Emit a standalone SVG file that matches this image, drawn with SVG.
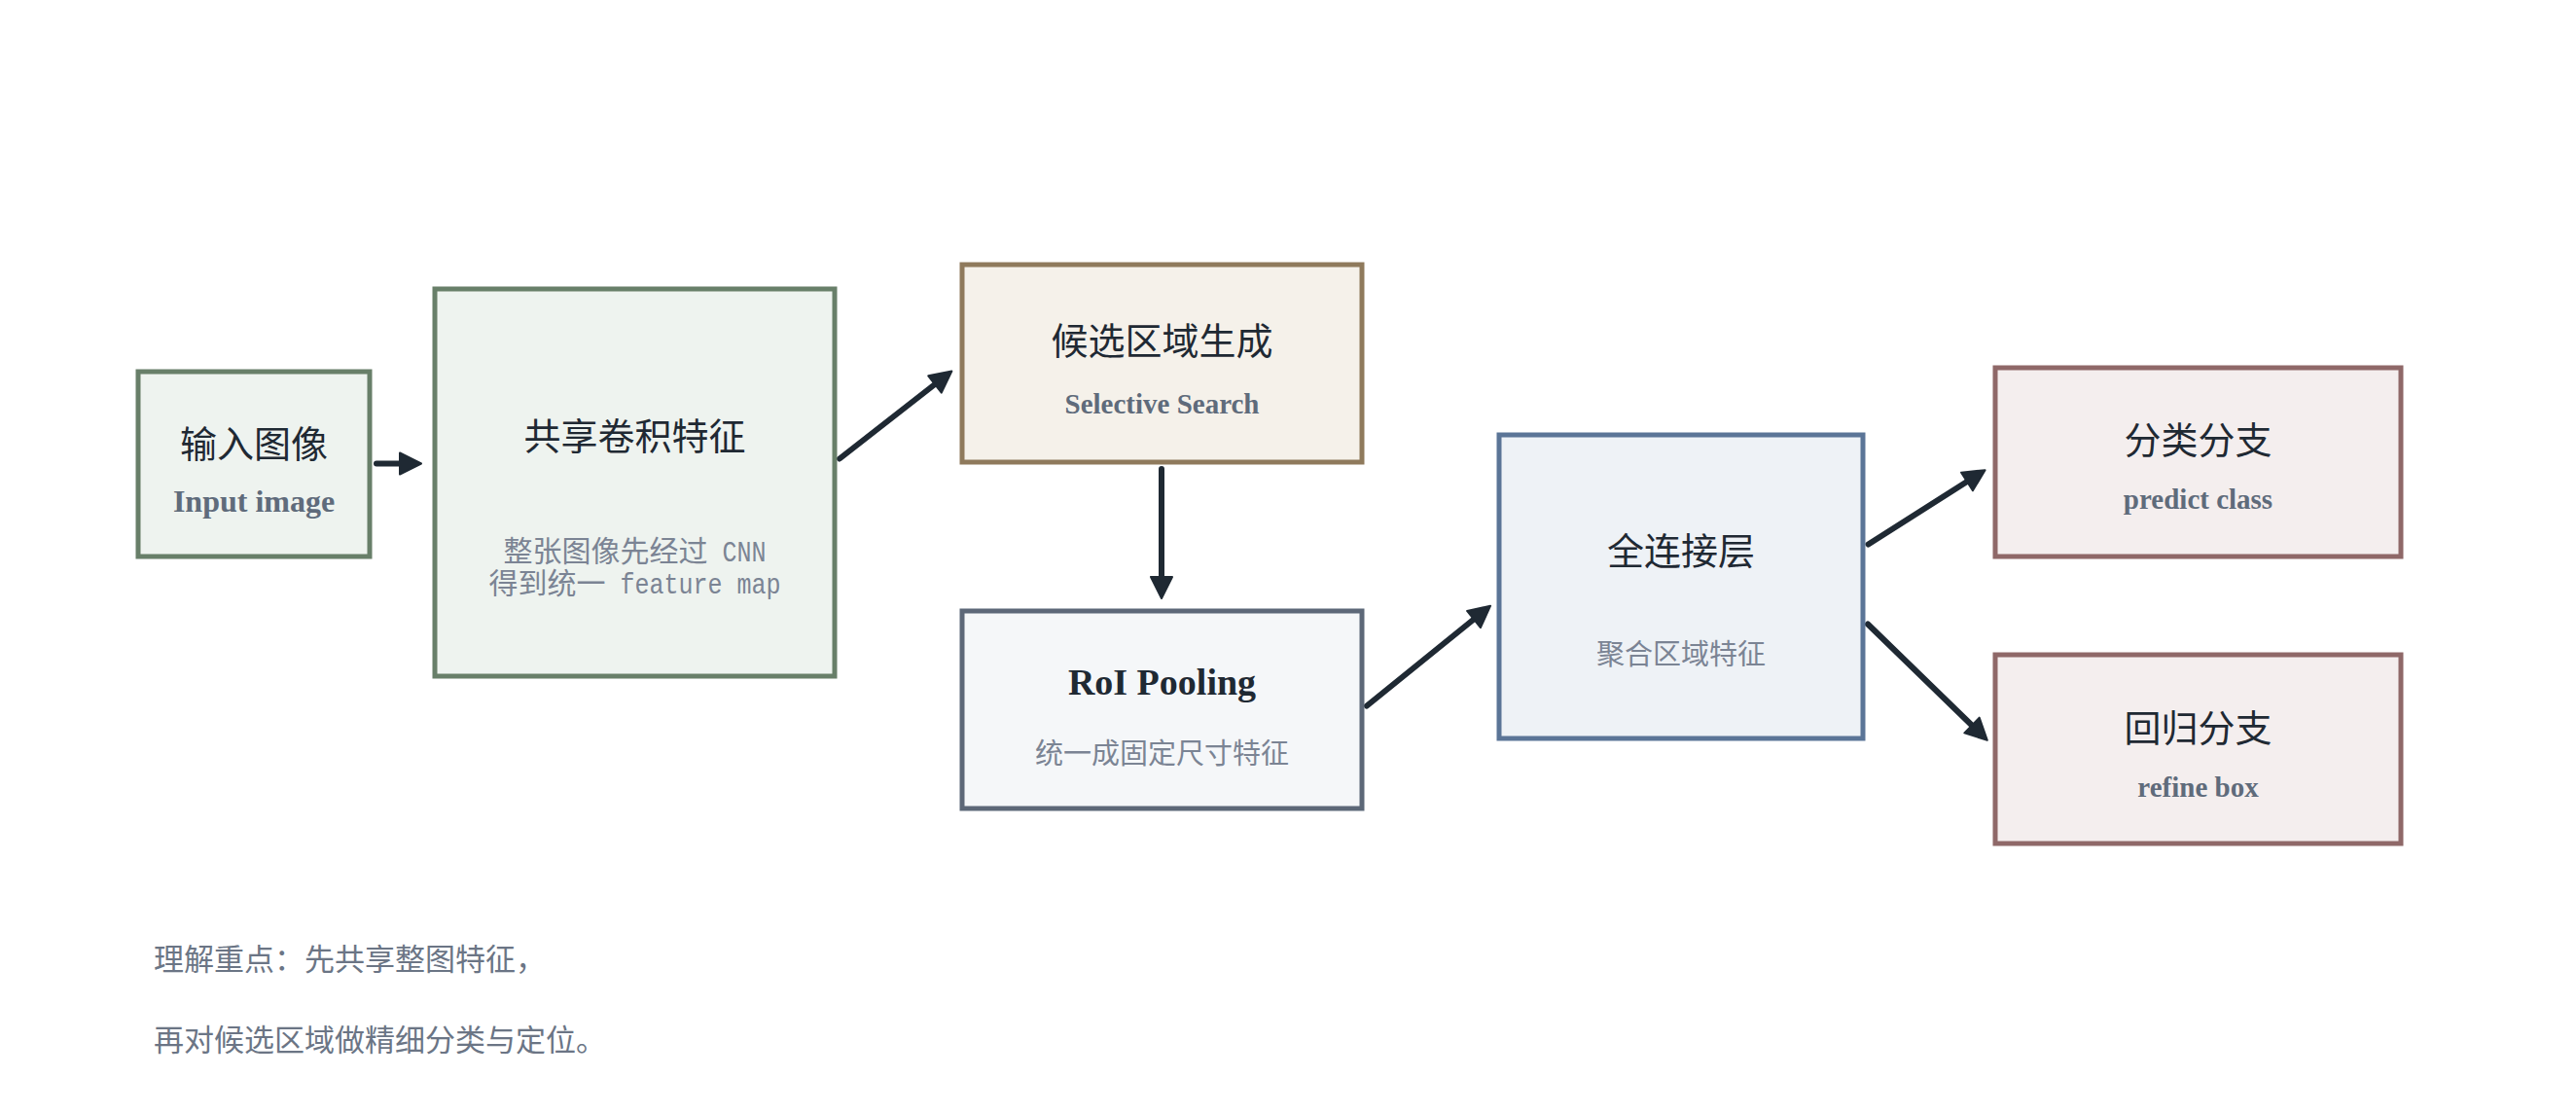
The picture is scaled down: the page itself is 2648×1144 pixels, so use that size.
<svg xmlns="http://www.w3.org/2000/svg" width="2648" height="1144" viewBox="0 0 2648 1144">
<style>
.box{stroke-width:5}
.g{fill:#eef3ef;stroke:#687f69}
.b{fill:#f5f1ea;stroke:#8f7a5c}
.s{fill:#f5f7f9;stroke:#5d6878}
.u{fill:#eef2f6;stroke:#5b7597}
.r{fill:#f4eeee;stroke:#8f6868}
.t{font-family:"Noto Sans CJK SC",sans-serif;font-size:38px;fill:#1f2933;text-anchor:middle}
.tb{font-family:"Liberation Serif","Noto Sans CJK SC",serif;font-weight:bold;font-size:38px;fill:#1f2933;text-anchor:middle}
.sb{font-family:"Liberation Serif","Noto Sans CJK SC",serif;font-weight:bold;font-size:29px;fill:#5f6b7b;text-anchor:middle}
.sc{font-family:"Noto Sans CJK SC",sans-serif;font-size:29px;fill:#7b8494;text-anchor:middle}
.mono{font-family:"Liberation Mono","Noto Sans CJK SC",monospace;font-size:30px;fill:#7b8494}
.note{font-family:"Noto Sans CJK SC",sans-serif;font-size:31px;fill:#6b7585}
.arr{stroke:#1f2933;stroke-width:6;stroke-linecap:round;fill:none;marker-end:url(#ah)}
</style>
<defs>
<marker id="ah" markerUnits="userSpaceOnUse" viewBox="0 0 26 26" refX="2" refY="13" markerWidth="26" markerHeight="26" orient="auto">
<path d="M2,2 L24,13 L2,24 Z" fill="#1f2933" stroke="#1f2933" stroke-width="2" stroke-linejoin="round"/>
</marker>
</defs>
<rect width="2648" height="1144" fill="#ffffff"/>
<g id="connectors">
<line class="arr" x1="387" y1="476.5" x2="411" y2="476.5"/>
<line class="arr" x1="863" y1="471.5" x2="961" y2="395"/>
<line class="arr" x1="1194" y1="482" x2="1194" y2="593"/>
<line class="arr" x1="1405" y1="725.5" x2="1515" y2="636.5"/>
<line class="arr" x1="1920.5" y1="559.5" x2="2022" y2="495"/>
<line class="arr" x1="1920" y1="641.5" x2="2027" y2="745.5"/>
</g>
<g id="node-input">
<rect class="box g" x="142" y="382" width="238" height="190"/>
<text class="t" x="261" y="470">输入图像</text>
<text class="sb" x="261" y="526" style="font-size:32px">Input image</text>
</g>
<g id="node-conv">
<rect class="box g" x="447" y="297" width="411" height="398"/>
<text class="t" x="652.5" y="462">共享卷积特征</text>
<text class="mono" x="517.5" y="577"><tspan>整张图像先经过</tspan><tspan textLength="60" lengthAdjust="spacingAndGlyphs"> CNN</tspan></text>
<text class="mono" x="502.5" y="610"><tspan>得到统一</tspan><tspan textLength="180" lengthAdjust="spacingAndGlyphs"> feature map</tspan></text>
</g>
<g id="node-proposal">
<rect class="box b" x="989" y="272" width="411" height="203"/>
<text class="t" x="1194.5" y="364">候选区域生成</text>
<text class="sb" x="1194.5" y="424.5">Selective Search</text>
</g>
<g id="node-roi">
<rect class="box s" x="989" y="628" width="411" height="203"/>
<text class="tb" x="1194.5" y="714">RoI Pooling</text>
<text class="sc" x="1194.5" y="785">统一成固定尺寸特征</text>
</g>
<g id="node-fc">
<rect class="box u" x="1541" y="447" width="374" height="312"/>
<text class="t" x="1728" y="580">全连接层</text>
<text class="sc" x="1728" y="683">聚合区域特征</text>
</g>
<g id="node-cls">
<rect class="box r" x="2051" y="378" width="417" height="194"/>
<text class="t" x="2259.5" y="466">分类分支</text>
<text class="sb" x="2259.5" y="523">predict class</text>
</g>
<g id="node-reg">
<rect class="box r" x="2051" y="673" width="417" height="194"/>
<text class="t" x="2259.5" y="761.5">回归分支</text>
<text class="sb" x="2259.5" y="819">refine box</text>
</g>
<g id="note">
<text class="note" x="158" y="997">理解重点：先共享整图特征，</text>
<text class="note" x="158" y="1080">再对候选区域做精细分类与定位。</text>
</g>
</svg>
